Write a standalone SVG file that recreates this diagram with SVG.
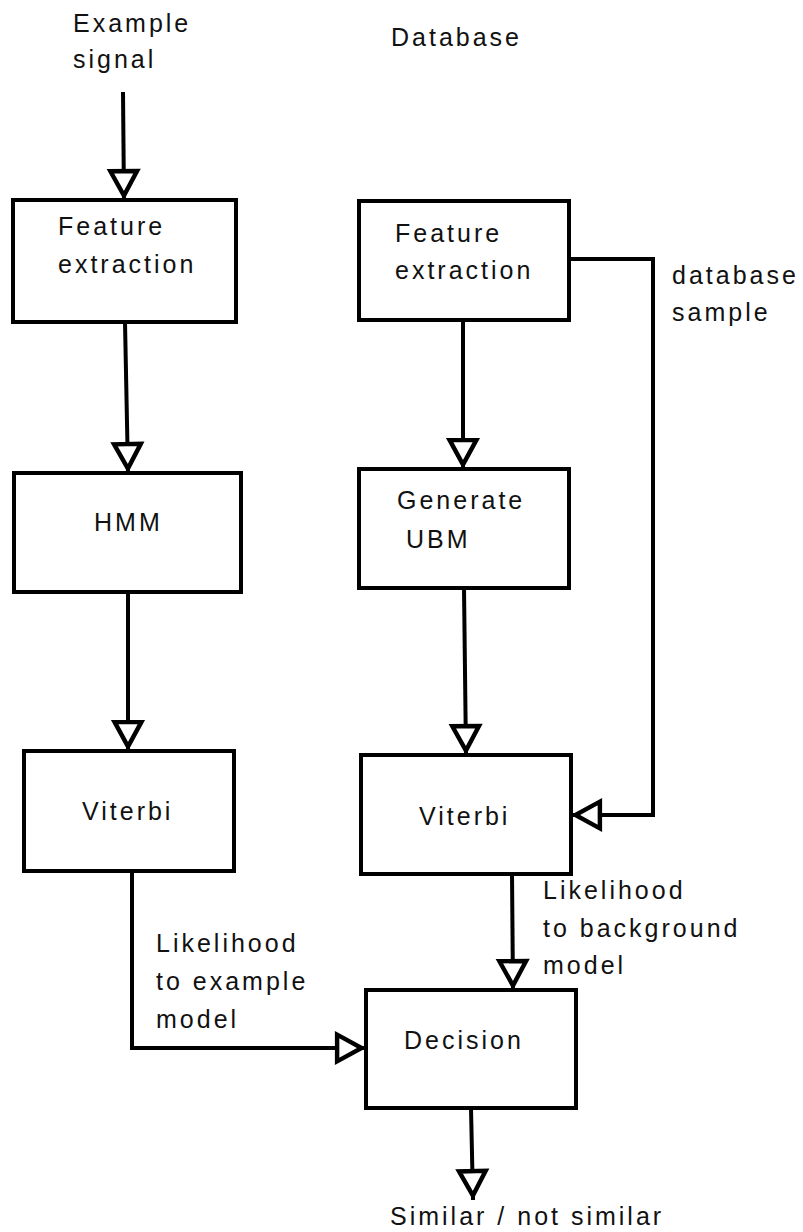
<svg xmlns="http://www.w3.org/2000/svg" width="803" height="1232" viewBox="0 0 803 1232">
  <style>
    .box { fill: #ffffff; stroke: #000000; stroke-width: 4; }
    .wire { fill: none; stroke: #000000; stroke-width: 4; marker-end: url(#open-arrow); }
    text { font-family: "Liberation Sans", Arial, sans-serif; font-size: 25px; letter-spacing: 3px; fill: #111111; }
  </style>
  <defs>
    <!-- hollow triangular arrowhead -->
    <marker id="open-arrow" markerUnits="userSpaceOnUse" markerWidth="40" markerHeight="40" viewBox="-4 -16 36 32" refX="26" refY="0" orient="auto" overflow="visible">
      <path d="M0,-12 L22,0 L0,12 Z" fill="#ffffff" stroke="#000000" stroke-width="4" stroke-linejoin="miter"/>
    </marker>
  </defs>
  <rect width="803" height="1232" fill="#ffffff"/>

  <!-- free-standing labels -->
  <g id="input-label">
    <text x="73" y="32">Example</text>
    <text x="73" y="68">signal</text>
  </g>
  <g id="database-label">
    <text x="391" y="46">Database</text>
  </g>

  <!-- connectors -->
  <g id="connectors">
    <path class="wire" d="M123,92 L124,200"/>
    <path class="wire" d="M125,322 L128,473"/>
    <path class="wire" d="M128,592 L128,751"/>
    <path class="wire" d="M132,871 L132,1048 L366,1048"/>
    <path class="wire" d="M463,320 L463,469"/>
    <path class="wire" d="M464,588 L466,755"/>
    <path class="wire" d="M569,259 L653,259 L653,815 L571,815"/>
    <path class="wire" d="M512,874 L513,990"/>
    <path class="wire" d="M471,1108 L473,1200"/>
    <text x="672" y="284">database</text>
    <text x="672" y="321">sample</text>
    <text x="156" y="952">Likelihood</text>
    <text x="156" y="990">to example</text>
    <text x="156" y="1028">model</text>
    <text x="543" y="899">Likelihood</text>
    <text x="543" y="937">to background</text>
    <text x="543" y="974">model</text>
    <text x="390" y="1225">Similar / not similar</text>
  </g>

  <!-- example branch -->
  <g id="feature-extraction-example">
    <rect class="box" x="13" y="200" width="223" height="122"/>
    <text x="58" y="235">Feature</text>
    <text x="58" y="273">extraction</text>
  </g>
  <g id="hmm">
    <rect class="box" x="14" y="473" width="227" height="119"/>
    <text x="94" y="531">HMM</text>
  </g>
  <g id="viterbi-example">
    <rect class="box" x="24" y="751" width="210" height="120"/>
    <text x="82" y="820">Viterbi</text>
  </g>

  <!-- database branch -->
  <g id="feature-extraction-database">
    <rect class="box" x="359" y="201" width="210" height="119"/>
    <text x="395" y="242">Feature</text>
    <text x="395" y="279">extraction</text>
  </g>
  <g id="generate-ubm">
    <rect class="box" x="359" y="469" width="210" height="119"/>
    <text x="397" y="509">Generate</text>
    <text x="406" y="548">UBM</text>
  </g>
  <g id="viterbi-background">
    <rect class="box" x="361" y="755" width="210" height="119"/>
    <text x="419" y="825">Viterbi</text>
  </g>

  <!-- final decision -->
  <g id="decision">
    <rect class="box" x="366" y="990" width="210" height="118"/>
    <text x="404" y="1049">Decision</text>
  </g>
</svg>
